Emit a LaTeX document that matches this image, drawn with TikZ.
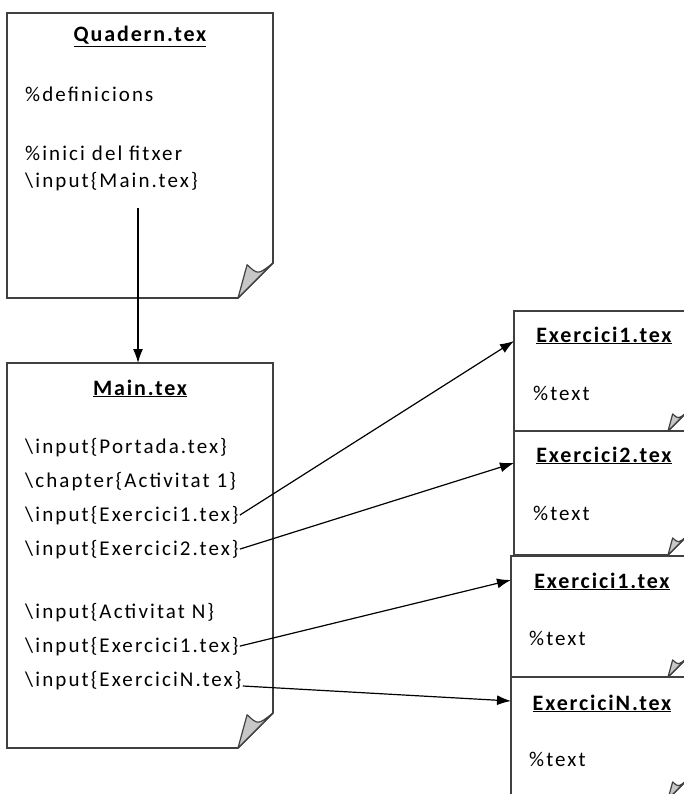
\documentclass[tikz,border=0pt]{standalone}
\usepackage{fontspec}
\setmainfont{Carlito}
\newfontfamily\bodyfont[LetterSpace=10]{Carlito}
\newfontfamily\headfont[LetterSpace=8.5]{Carlito}
\usetikzlibrary{arrows.meta}

\tikzset{
  docline/.style={draw=black!75, line width=1.6pt, fill=white, line join=miter},
  flapline/.style={draw=black!75, line width=1.2pt, fill=black!22, line join=round},
  doctitle/.style={anchor=base, inner sep=0pt, font=\headfont\bfseries\fontsize{22}{26}\selectfont},
  codeline/.style={anchor=base west, inner sep=1pt, font=\bodyfont\fontsize{21}{25}\selectfont},
  conn/.style={draw=black, line width=1.2pt, -{Latex[length=14pt,width=10pt]}},
}

% A sheet of paper with a curled bottom-right corner:
% #1,#2 top-left corner, #3,#4 bottom-right corner, #5 size of the fold
\newcommand\paperdoc[5]{%
  \path[docline] (#1,#2) -- (#3,#2) -- ({#3},{#4-#5}) -- ({#3-#5},{#4}) -- (#1,#4) -- cycle;
  \path[flapline] ({#3-#5},{#4}) -- ({#3-0.74*#5},{#4-0.95*#5})
     .. controls ({#3-0.43*#5},{#4-0.66*#5}) .. ({#3},{#4-#5}) -- cycle;
}

\begin{document}
\begin{tikzpicture}[x=1pt, y=-1pt]
\useasboundingbox (0,0) rectangle (684,794);
\fill[white] (0,0) rectangle (684,794);
\clip (0,0) rectangle (684,794);

% --- Quadern.tex ---
\paperdoc{7}{13}{273}{298}{35}
\node[doctitle] (qtitle) at (140,42) {\underline{Quadern.tex}};
\node[codeline] (q1) at (24,102) {\%definicions};
\node[codeline] (q2) at (24,161) {\%inici del fitxer};
\node[codeline] (q3) at (24,188) {\textbackslash input\{Main.tex\}};
\coordinate (qout) at (138,208);

% --- Main.tex ---
\paperdoc{7}{363}{273}{748}{35}
\coordinate (mtop) at (138,363);
\node[doctitle] (mtitle) at (140,395) {\underline{Main.tex}};
\node[codeline] (m1) at (24,453) {\textbackslash input\{Portada.tex\}};
\node[codeline] (m2) at (24,487) {\textbackslash chapter\{Activitat 1\}};
\node[codeline] (m3) at (24,521) {\textbackslash input\{Exercici1.tex\}};
\node[codeline] (m4) at (24,555) {\textbackslash input\{Exercici2.tex\}};
\node[codeline] (m5) at (24,618) {\textbackslash input\{Activitat N\}};
\node[codeline] (m6) at (24,652) {\textbackslash input\{Exercici1.tex\}};
\node[codeline] (m7) at (24,686) {\textbackslash input\{ExerciciN.tex\}};

% --- exercise files ---
\paperdoc{514}{311}{686}{431}{18}
\coordinate (e1in) at (514,341);
\node[doctitle] (e1title) at (604,342) {\underline{Exercici1.tex}};
\node[codeline] (e1text) at (532,400) {\%text};

\paperdoc{514}{431}{686}{555}{18}
\coordinate (e2in) at (514,463);
\node[doctitle] (e2title) at (604,462) {\underline{Exercici2.tex}};
\node[codeline] (e2text) at (532,520) {\%text};

\paperdoc{511}{556}{686}{677}{18}
\coordinate (e3in) at (511,580);
\node[doctitle] (e3title) at (602,588) {\underline{Exercici1.tex}};
\node[codeline] (e3text) at (528,645) {\%text};

\paperdoc{511}{677}{686}{799}{18}
\coordinate (e4in) at (511,701);
\node[doctitle] (e4title) at (602,710) {\underline{ExerciciN.tex}};
\node[codeline] (e4text) at (528,766) {\%text};

% --- connectors ---
\draw[conn] (qout) -- (mtop);
\draw[conn] (m3.east) -- (e1in);
\draw[conn] (m4.east) -- (e2in);
\draw[conn] (m6.east) -- (e3in);
\draw[conn] (m7.base east) -- (e4in);
\end{tikzpicture}
\end{document}
